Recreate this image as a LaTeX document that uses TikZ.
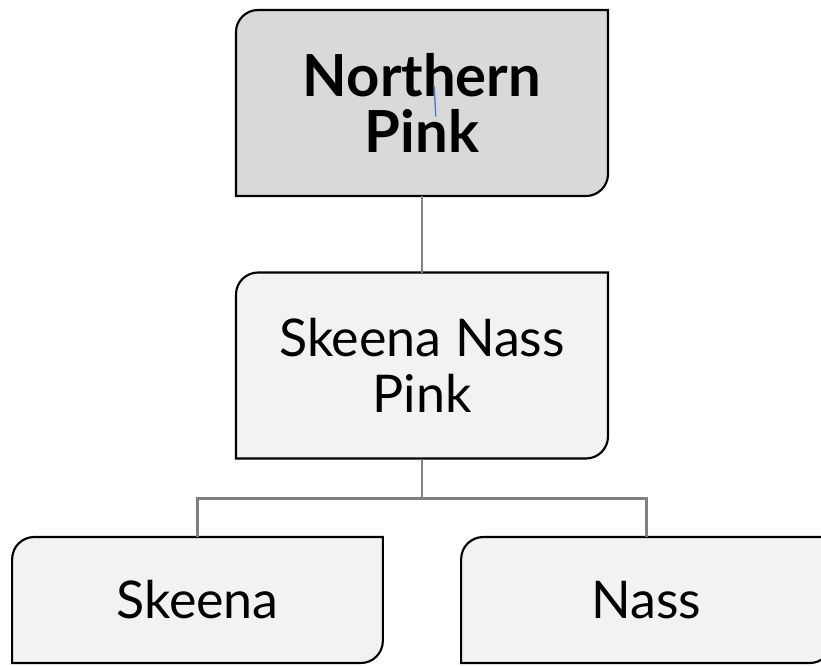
\documentclass[tikz,border=0pt]{standalone}
\usepackage{fontspec}
\setmainfont{Lato}
\usetikzlibrary{backgrounds}
\definecolor{ink}{HTML}{000000}
\definecolor{rootfill}{HTML}{D9D9D9}
\definecolor{cardfill}{HTML}{F2F2F2}
\definecolor{linkgray}{HTML}{808080}
\definecolor{strayblue}{HTML}{4A7EC2}
% outline with two rounded corners (top left, bottom right)
\newcommand{\cardshape}[2]{%
  \fill[#2,draw=ink,line width=1.6pt]
    ([yshift=-16.5pt]#1.north west) arc[start angle=180,end angle=90,radius=16.5pt]
    -- (#1.north east) -- ([yshift=16.5pt]#1.south east)
    arc[start angle=0,end angle=-90,radius=16.5pt] -- (#1.south west) -- cycle;}
\tikzset{
  cardtext/.style={align=center,inner sep=0pt,outer sep=0pt,
                   font=\fontsize{39}{42.5}\selectfont},
  bigcard/.style={cardtext,minimum width=279pt,minimum height=139.5pt},
  rootcard/.style={bigcard,font=\bfseries\fontsize{43.5}{42}\selectfont},
  leafcard/.style={cardtext,minimum width=278pt,minimum height=94.5pt},
  link/.style={draw=linkgray,line width=1.6pt}
}
\begin{document}
\begin{tikzpicture}[x=0.75pt,y=-0.75pt]
    \useasboundingbox (0,0) rectangle (821,665);
    \clip (0,0) rectangle (821,665);

    \node[rootcard] (north) at (422,103) {Northern\\Pink};
    \node[bigcard] (skna) at (422,365.5) {Skeena Nass\\Pink};
    \node[leafcard] (skeena) at (197.5,600) {Skeena};
    \node[leafcard] (nass) at (646.5,600) {Nass};

    \begin{scope}[on background layer]
      \cardshape{north}{rootfill}
      \cardshape{skna}{cardfill}
      \cardshape{skeena}{cardfill}
      \cardshape{nass}{cardfill}
    \end{scope}

    \draw[link] (north) -- (skna);
    \draw[link] (skna.south) -- ++(0,40) -| (skeena.north);
    \draw[link] (skna.south) -- ++(0,40) -| (nass.north);

    % stray mark inside the top card
    \coordinate (mtop) at (434.3,86);
    \coordinate (mbot) at (435.7,116.7);
    \draw[strayblue,line width=1pt] (mtop) -- (mbot);
  \end{tikzpicture}
\end{document}
